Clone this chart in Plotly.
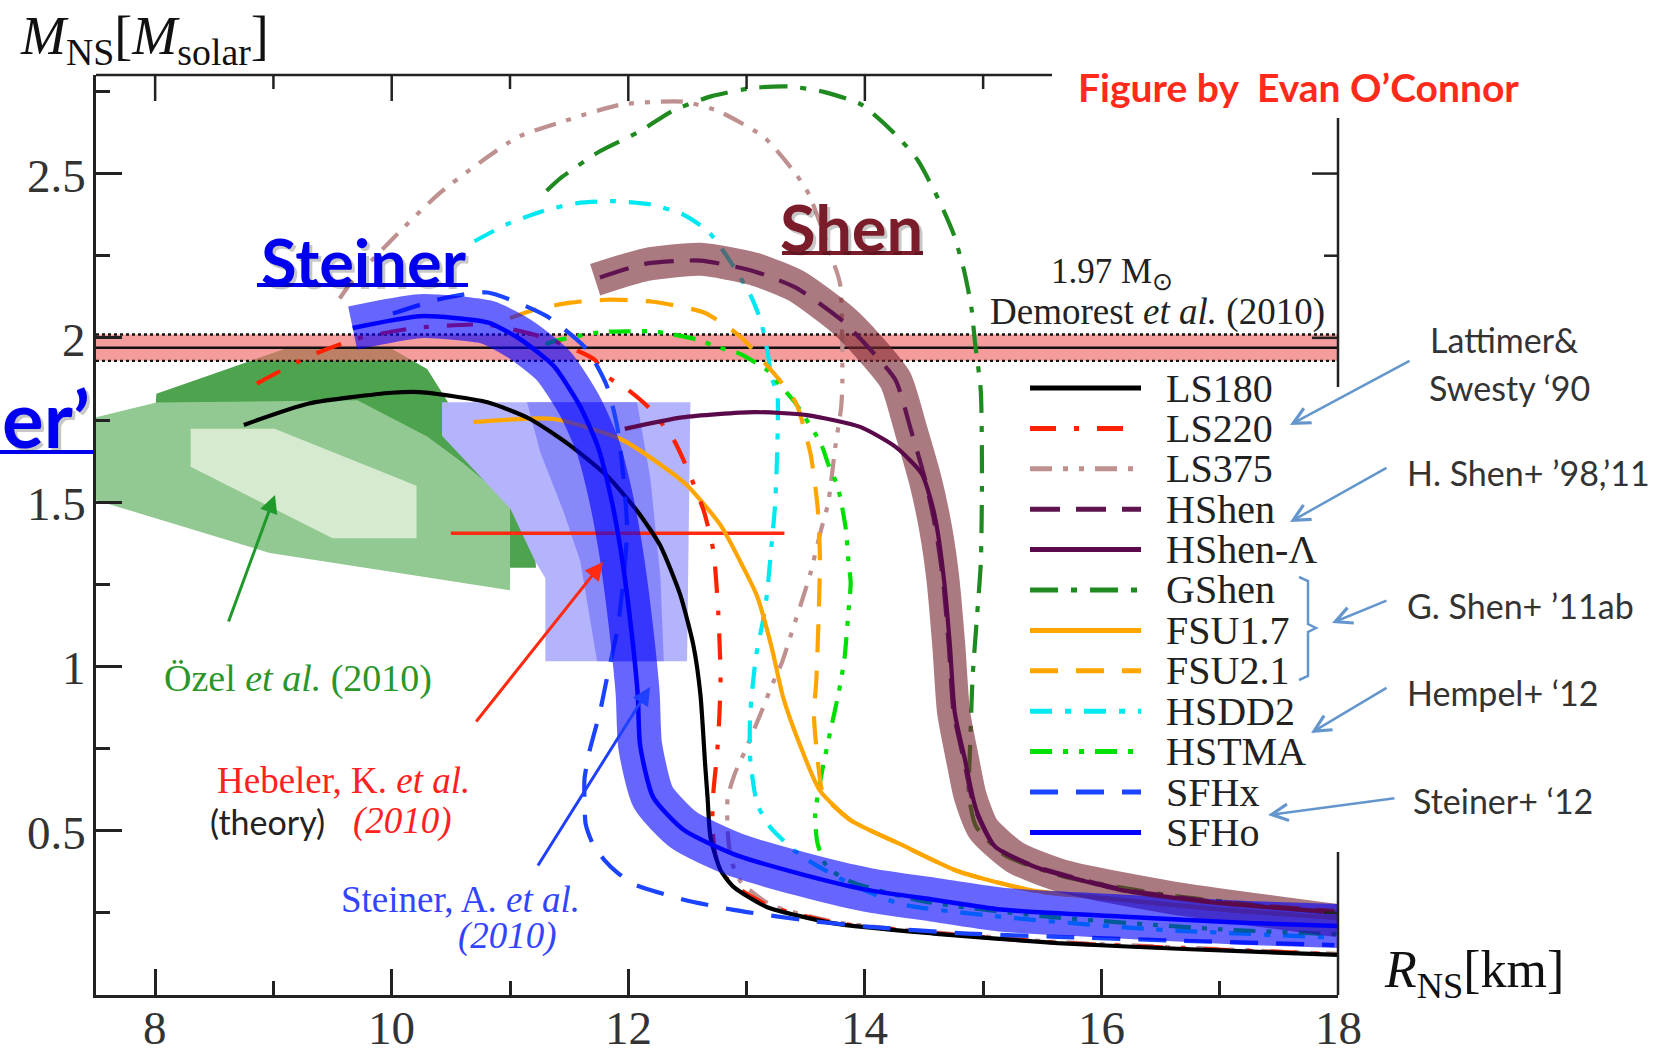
import plotly.graph_objects as go

# ---------------- data: mass-radius curves (R in km, M in Msun) ----------------
LS180_R = [8.75, 9.3, 10.0, 10.24, 10.81, 11.17, 11.51, 11.82, 12.08, 12.27, 12.44, 12.55, 12.61, 12.65, 12.67, 12.695, 12.78, 12.89, 13.17, 13.74, 14.58, 15.63, 16.70, 18.0]
LS180_M = [1.735, 1.80, 1.833, 1.835, 1.804, 1.753, 1.672, 1.58, 1.471, 1.368, 1.217, 1.065, 0.914, 0.70, 0.602, 0.480, 0.380, 0.329, 0.268, 0.218, 0.187, 0.158, 0.140, 0.122]

LS220_R = [8.86, 9.29, 9.70, 10.2, 10.8, 11.3, 11.71, 11.82, 11.99, 12.17, 12.38, 12.50, 12.64, 12.72, 12.76, 12.78, 12.77, 12.75, 12.72, 12.71, 12.74, 12.82, 12.93, 13.2, 13.75, 14.6, 15.6, 16.7, 18.0]
LS220_M = [1.861, 1.942, 1.997, 2.03, 2.04, 2.0, 1.935, 1.883, 1.844, 1.789, 1.692, 1.601, 1.471, 1.35, 1.168, 0.965, 0.85, 0.732, 0.62, 0.52, 0.42, 0.36, 0.325, 0.27, 0.22, 0.188, 0.16, 0.142, 0.124]

LS375_R = [9.56, 9.67, 10.10, 10.42, 11.06, 11.46, 11.94, 12.46, 12.76, 13.15, 13.42, 13.53, 13.71, 13.79, 13.81, 13.80, 13.75, 13.69, 13.63, 13.54, 13.48, 13.39, 13.30, 13.21, 13.14, 12.99, 12.90, 12.84, 12.84, 12.87, 12.95, 13.2, 13.75, 14.6, 15.6, 16.7, 18.0]
LS375_M = [2.12, 2.174, 2.335, 2.445, 2.61, 2.66, 2.71, 2.719, 2.69, 2.61, 2.497, 2.435, 2.255, 2.165, 1.871, 1.79, 1.668, 1.497, 1.416, 1.284, 1.213, 1.113, 1.013, 0.939, 0.875, 0.745, 0.673, 0.60, 0.50, 0.41, 0.345, 0.275, 0.222, 0.19, 0.162, 0.144, 0.125]

HSHEN_R = [11.76, 12.15, 12.61, 13.06, 13.42, 13.81, 14.03, 14.26, 14.39, 14.51, 14.60, 14.66, 14.71, 14.75, 14.84, 14.90, 14.94, 15.09, 15.42, 16.16, 16.96, 17.97]
HSHEN_M = [2.184, 2.226, 2.235, 2.203, 2.152, 2.052, 1.971, 1.871, 1.719, 1.568, 1.416, 1.265, 1.061, 0.861, 0.71, 0.606, 0.558, 0.455, 0.394, 0.323, 0.284, 0.255]

HSHENL_R = [11.97, 12.455, 13.06, 13.51, 13.96, 14.26, 14.48, 14.57, 14.62, 14.67, 14.72, 14.76, 14.85, 14.91, 14.95, 15.10, 15.43, 16.16, 16.96, 17.97]
HSHENL_M = [1.723, 1.758, 1.774, 1.765, 1.729, 1.668, 1.587, 1.49, 1.40, 1.26, 1.06, 0.86, 0.71, 0.606, 0.555, 0.452, 0.391, 0.32, 0.281, 0.252]

SHEN_BAND_R = [11.72, 12.15, 12.61, 13.06, 13.42, 13.81, 14.03, 14.26, 14.39, 14.51, 14.60, 14.66, 14.71, 14.75, 14.83, 14.89, 15.0, 15.27, 15.68, 16.58, 18.0]
SHEN_BAND_M = [2.177, 2.223, 2.239, 2.21, 2.158, 2.055, 1.974, 1.871, 1.719, 1.568, 1.416, 1.265, 1.061, 0.861, 0.71, 0.606, 0.506, 0.419, 0.361, 0.297, 0.226]

GSHEN_R = [11.31, 11.43, 11.76, 12.10, 12.37, 12.70, 13.06, 13.36, 13.66, 13.97, 14.26, 14.45, 14.63, 14.75, 14.84, 14.90, 14.93, 14.98, 14.99, 14.98, 14.95, 14.91, 14.89, 14.88, 14.94, 15.18, 15.68, 16.58, 18.0]
GSHEN_M = [2.448, 2.487, 2.568, 2.629, 2.69, 2.735, 2.761, 2.765, 2.748, 2.71, 2.619, 2.539, 2.416, 2.316, 2.203, 2.094, 1.99, 1.839, 1.568, 1.313, 1.161, 0.961, 0.758, 0.606, 0.513, 0.426, 0.361, 0.303, 0.248]

FSU17_R = [10.69, 11.37, 11.93, 12.25, 12.5, 12.78, 12.97, 13.09, 13.21, 13.31, 13.46, 13.62, 13.88, 14.30, 14.8, 15.42, 16.16, 17.03, 18.0]
FSU17_M = [1.744, 1.753, 1.693, 1.62, 1.55, 1.43, 1.303, 1.213, 1.061, 0.905, 0.753, 0.622, 0.532, 0.459, 0.375, 0.318, 0.29, 0.26, 0.235]

FSU21_R = [11.0, 11.2, 11.51, 11.82, 12.21, 12.64, 12.94, 13.28, 13.42, 13.54, 13.60, 13.62, 13.61, 13.59, 13.57, 13.60, 13.65, 13.88, 14.30, 14.8, 15.42, 16.16, 17.03, 18.0]
FSU21_M = [2.06, 2.085, 2.107, 2.116, 2.11, 2.077, 2.006, 1.871, 1.8, 1.648, 1.487, 1.335, 1.161, 0.961, 0.85, 0.72, 0.61, 0.532, 0.459, 0.375, 0.318, 0.29, 0.26, 0.235]

HSDD2_R = [10.70, 10.97, 11.29, 11.57, 11.88, 12.19, 12.455, 12.67, 12.84, 13.03, 13.12, 13.18, 13.21, 13.26, 13.26, 13.24, 13.21, 13.17, 13.14, 13.08, 13.03, 13.03, 13.09, 13.20, 13.40, 13.57, 13.88, 14.30, 15.15, 16.43, 17.97]
HSDD2_M = [2.294, 2.345, 2.387, 2.41, 2.416, 2.406, 2.377, 2.326, 2.245, 2.132, 2.052, 1.952, 1.881, 1.829, 1.668, 1.487, 1.365, 1.213, 1.142, 1.032, 0.853, 0.723, 0.581, 0.511, 0.441, 0.399, 0.338, 0.277, 0.238, 0.20, 0.175]

HSTMA_R = [11.3, 11.37, 11.76, 12.0, 12.21, 12.58, 12.76, 12.94, 13.18, 13.27, 13.41, 13.63, 13.69, 13.77, 13.84, 13.86, 13.88, 13.86, 13.83, 13.80, 13.77, 13.71, 13.64, 13.58, 13.60, 13.68, 13.88, 14.5, 15.5, 17.0, 18.0]
HSTMA_M = [1.98, 1.99, 2.017, 2.02, 2.02, 1.995, 1.971, 1.952, 1.9, 1.861, 1.803, 1.677, 1.616, 1.548, 1.416, 1.323, 1.255, 1.161, 1.032, 0.961, 0.905, 0.805, 0.684, 0.55, 0.461, 0.39, 0.345, 0.285, 0.24, 0.2, 0.185]

SFHX_R = [10.01, 10.42, 10.81, 11.31, 11.65, 11.82, 11.91, 11.96, 11.99, 11.96, 11.91, 11.82, 11.76, 11.67, 11.63, 11.63, 11.64, 11.70, 11.80, 11.90, 12.04, 12.47, 12.89, 13.46, 14.02, 14.87, 15.63, 16.69, 17.97]
SFHX_M = [2.074, 2.119, 2.138, 2.066, 1.965, 1.853, 1.723, 1.571, 1.42, 1.268, 1.117, 0.965, 0.861, 0.739, 0.658, 0.587, 0.52, 0.46, 0.41, 0.375, 0.338, 0.290, 0.259, 0.229, 0.208, 0.187, 0.177, 0.165, 0.152]

SFHO_R = [9.67, 10.24, 10.81, 11.09, 11.37, 11.59, 11.74, 11.85, 11.93, 11.99, 12.04, 12.08, 12.10, 12.21, 12.47, 12.89, 13.46, 14.02, 14.58, 15.15, 16.16, 17.23, 18.0]
SFHO_M = [2.03, 2.066, 2.047, 1.995, 1.914, 1.793, 1.672, 1.520, 1.368, 1.217, 1.065, 0.914, 0.76, 0.602, 0.502, 0.429, 0.368, 0.320, 0.290, 0.260, 0.239, 0.219, 0.21]

# ---------------- observational constraint regions ----------------
OZEL_OUTER_R = [8.0, 8.01, 9.1, 10.0, 10.3, 10.5, 10.9, 11.2, 11.22, 10.99, 9.0, 8.0]
OZEL_OUTER_M = [1.765, 1.83, 1.967, 1.967, 1.905, 1.79, 1.62, 1.40, 1.30, 1.30, 1.40, 1.70]
OZEL_MID_R = [7.5, 8.01, 9.71, 10.3, 10.6, 11.0, 11.0, 8.97, 7.5]
OZEL_MID_M = [1.758, 1.803, 1.81, 1.70, 1.62, 1.50, 1.232, 1.345, 1.506]
OZEL_INNER_R = [8.30, 9.01, 10.21, 10.21, 9.50, 8.30]
OZEL_INNER_M = [1.723, 1.723, 1.55, 1.39, 1.39, 1.608]
STEINER_OUTER_R = [10.425, 12.525, 12.497, 11.299, 11.299, 11.214, 11.003, 10.425]
STEINER_OUTER_M = [1.804, 1.804, 1.016, 1.016, 1.268, 1.319, 1.48, 1.702]
STEINER_INNER_R = [11.144, 12.074, 12.187, 12.272, 12.30, 11.736, 11.595, 11.454, 11.256]
STEINER_INNER_M = [1.804, 1.804, 1.571, 1.268, 1.016, 1.016, 1.319, 1.470, 1.652]
HEBELER_R = [10.5, 13.32]
HEBELER_M = [1.405, 1.405]
DEMOREST_M = 1.97
DEMOREST_ERR = 0.04

# ---------------- axes ----------------
X_TICKS = [8, 10, 12, 14, 16, 18]
X_TICKTEXT = ["8", "10", "12", "14", "16", "18"]
X_MINOR = [9, 11, 13, 15, 17]
Y_TICKS = [0.5, 1.0, 1.5, 2.0, 2.5]
Y_TICKTEXT = ["0.5", "1", "1.5", "2", "2.5"]
Y_MINOR = [0.25, 0.75, 1.25, 1.75, 2.25, 2.75]
X_RANGE = [7.5, 18]
Y_RANGE = [0, 2.8]

LEGEND_NAMES = ["LS180", "LS220", "LS375", "HShen", "HShen-Λ", "GShen", "FSU1.7", "FSU2.1", "HSDD2", "HSTMA", "SFHx", "SFHo"]

# ---------------- styles ----------------
SERIF = "Liberation Serif"
SANS = "Lato"
W, H = 1668, 1055
L, R, T, B = 96, 1338, 75, 995


def px(x):
    return (x - L) / (R - L)


def py(y):
    return (B - y) / (B - T)


STYLE = {
    "LS180": ("#000000", "solid"),
    "LS220": ("#ff2200", "26px,18px,5px,18px"),
    "LS375": ("#bf9090", "22px,11px,5px,11px,5px,11px"),
    "HShen": ("#5f1450", "30px,16px"),
    "HShen-Λ": ("#5a0a4a", "solid"),
    "GShen": ("#1f8a1f", "28px,13px,6px,13px"),
    "FSU1.7": ("#ffa500", "solid"),
    "FSU2.1": ("#ffa500", "28px,18px"),
    "HSDD2": ("#00e8f0", "22px,13px,6px,13px"),
    "HSTMA": ("#00e000", "22px,11px,5px,11px,5px,11px"),
    "SFHx": ("#1a44ff", "28px,18px"),
    "SFHo": ("#0000ff", "solid"),
}

fig = go.Figure()


def poly(r, m, color):
    fig.add_trace(go.Scatter(x=r + [r[0]], y=m + [m[0]], mode="lines", fill="toself",
                             fillcolor=color, line=dict(width=0), hoverinfo="skip", showlegend=False))


# regions
poly(OZEL_OUTER_R, OZEL_OUTER_M, "rgb(78,164,78)")
poly(OZEL_MID_R, OZEL_MID_M, "rgb(146,201,146)")
poly(OZEL_INNER_R, OZEL_INNER_M, "rgb(214,234,208)")
poly(STEINER_OUTER_R, STEINER_OUTER_M, "rgb(180,180,252)")
poly(STEINER_INNER_R, STEINER_INNER_M, "rgb(136,136,250)")

# Demorest band
lo, hi = DEMOREST_M - DEMOREST_ERR, DEMOREST_M + DEMOREST_ERR
fig.add_trace(go.Scatter(x=[X_RANGE[0], X_RANGE[1], X_RANGE[1], X_RANGE[0], X_RANGE[0]],
                         y=[lo, lo, hi, hi, lo], mode="lines", fill="toself",
                         fillcolor="rgba(240,110,110,0.68)", line=dict(width=0),
                         hoverinfo="skip", showlegend=False))
for yv, dash in [(lo, "dot"), (hi, "dot"), (DEMOREST_M, "solid")]:
    fig.add_trace(go.Scatter(x=X_RANGE, y=[yv, yv], mode="lines",
                             line=dict(color="#111", width=2.4, dash=dash),
                             hoverinfo="skip", showlegend=False))

# Hebeler range
fig.add_trace(go.Scatter(x=HEBELER_R, y=HEBELER_M, mode="lines",
                         line=dict(color="#ff2a10", width=3.5), hoverinfo="skip", showlegend=False))


def curve(name, r, m, width=4.2):
    c, d = STYLE[name]
    fig.add_trace(go.Scatter(x=r, y=m, mode="lines", name=name,
                             line=dict(color=c, width=width, dash=d, shape="spline", smoothing=0.6),
                             hoverinfo="skip", showlegend=False))


curve("LS375", LS375_R, LS375_M)
curve("GShen", GSHEN_R, GSHEN_M)
curve("HSDD2", HSDD2_R, HSDD2_M)
curve("HSTMA", HSTMA_R, HSTMA_M)
curve("FSU2.1", FSU21_R, FSU21_M)
curve("FSU1.7", FSU17_R, FSU17_M)
curve("LS220", LS220_R, LS220_M)
curve("LS180", LS180_R, LS180_M)
curve("SFHx", SFHX_R, SFHX_M)

# thick highlight bands
fig.add_trace(go.Scatter(x=SHEN_BAND_R, y=SHEN_BAND_M, mode="lines",
                         line=dict(color="rgba(120,38,50,0.62)", width=33, shape="spline", smoothing=0.6),
                         hoverinfo="skip", showlegend=False))
fig.add_trace(go.Scatter(x=SFHO_R, y=SFHO_M, mode="lines",
                         line=dict(color="rgba(0,0,255,0.6)", width=44, shape="spline", smoothing=0.6),
                         hoverinfo="skip", showlegend=False))

curve("HShen", HSHEN_R, HSHEN_M)
curve("HShen-Λ", HSHENL_R, HSHENL_M)
curve("SFHo", SFHO_R, SFHO_M, width=4.5)

# ---------------- shapes: frame pieces, legend samples, underlines ----------------
shapes = []
ax_col = "#222"
# top axis (partial)
shapes.append(dict(type="line", xref="paper", yref="paper", x0=0, x1=px(1052), y0=1, y1=1,
                   line=dict(color=ax_col, width=2.5)))
for xv in range(8, 16):
    ln = 26 if xv % 2 == 0 else 14
    shapes.append(dict(type="line", xref="x", yref="paper", x0=xv, x1=xv, y0=1, y1=1 - ln / (B - T),
                       line=dict(color=ax_col, width=2.5)))
# right axis (two visible pieces)
for a, b in [(118, 387), (852, 995)]:
    shapes.append(dict(type="line", xref="paper", yref="paper", x0=1, x1=1, y0=py(a), y1=py(b),
                       line=dict(color=ax_col, width=2.5)))
for yv, ln in [(2.5, 26), (2.25, 14), (2.0, 26), (0.25, 14)]:
    shapes.append(dict(type="line", xref="paper", yref="y", x0=1, x1=1 - ln / (R - L), y0=yv, y1=yv,
                       line=dict(color=ax_col, width=2.5)))

# legend samples
ROW0, DROW = 388, 40.4
for i, name in enumerate(LEGEND_NAMES):
    c, d = STYLE[name]
    yy = ROW0 + i * DROW
    shapes.append(dict(type="line", xref="paper", yref="paper", x0=px(1030), x1=px(1141),
                       y0=py(yy), y1=py(yy), line=dict(color=c, width=5, dash=d)))

# underlines
for x0, x1, yy, col in [(257, 468, 285, "#0000ee"), (782, 923, 253, "#7b1c2b"), (0, 94, 452, "#0000ee")]:
    shapes.append(dict(type="line", xref="paper", yref="paper", x0=px(x0), x1=px(x1), y0=py(yy), y1=py(yy),
                       line=dict(color=col, width=4)))

# curly bracket for G. Shen group
bx = [1299, 1308, 1308, 1316, 1308, 1308, 1299]
by = [577, 581, 624, 628, 632, 676, 680]
path = "M " + " L ".join(f"{px(a):.5f},{py(b):.5f}" for a, b in zip(bx, by))
shapes.append(dict(type="path", xref="paper", yref="paper", path=path,
                   line=dict(color="rgb(100,150,205)", width=2.5)))

# ---------------- annotations ----------------
ann = []


def txt(x, y, s, size, color, family, xanchor="center"):
    ann.append(dict(x=px(x), y=py(y), xref="paper", yref="paper", text=s, showarrow=False,
                    font=dict(size=size, color=color, family=family), xanchor=xanchor, yanchor="middle"))


def arrow(tail, head, color, width, head_style, size=1.0):
    ann.append(dict(x=px(head[0]), y=py(head[1]), xref="paper", yref="paper", text="",
                    ax=tail[0] - head[0], ay=tail[1] - head[1], axref="pixel", ayref="pixel",
                    showarrow=True, arrowhead=head_style, arrowsize=size, arrowwidth=width,
                    arrowcolor=color, standoff=0, startstandoff=0))


# tick labels (placed from the tick lists)
for v, s in zip(X_TICKS, X_TICKTEXT):
    ann.append(dict(x=v, y=py(1028), xref="x", yref="paper", text=s, showarrow=False,
                    font=dict(size=47, color="#333", family=SERIF), xanchor="center", yanchor="middle"))
for v, s in zip(Y_TICKS, Y_TICKTEXT):
    ann.append(dict(x=px(88), y=v, xref="paper", yref="y", text=s, showarrow=False,
                    font=dict(size=47, color="#333", family=SERIF), xanchor="right", yanchor="middle",
                    yshift=-2))

# axis titles
txt(144, 40, "<i>M</i><sub>NS</sub>[<i>M</i><sub>solar</sub>]", 54, "#111", SERIF)
txt(1474, 973, "<i>R</i><sub>NS</sub>[km]", 52, "#111", SERIF)

# big highlight labels with soft shadow
for (x, y, s, col, sz) in [(364, 261, "<b>Steiner</b>", "#0000ee", 65), (851, 227, "<b>Shen</b>", "#7b1c2b", 65),
                           (46, 418, "<b>er’</b>", "#0000ee", 78)]:
    txt(x + 3, y + 3, s, sz, "rgba(0,0,0,0.22)", SANS)
    txt(x, y, s, sz, col, SANS)

txt(1298, 87, "<b>Figure by\u00a0 Evan O’Connor</b>", 39, "#ff2a1a", SANS)

txt(1112, 273, "1.97 M<sub>⊙</sub>", 35, "#222", SERIF)
txt(1157, 312, "Demorest <i>et al.</i> (2010)", 37, "#222", SERIF)
txt(298, 678, "Özel <i>et al.</i> (2010)", 38, "#2a962a", SERIF)
txt(343, 780, "Hebeler, K. <i>et al.</i>", 37, "#ff2020", SERIF)
txt(267, 821, "(theory)", 34, "#222", SANS)
txt(402, 821, "<i>(2010)</i>", 37, "#ff2020", SERIF)
txt(460, 899, "Steiner, A. <i>et al.</i>", 37, "#3344ff", SERIF)
txt(508, 936, "<i>(2010)</i>", 37, "#3344ff", SERIF)

# legend labels
for i, name in enumerate(LEGEND_NAMES):
    txt(1164, ROW0 + i * DROW, name, 40, "#222", SERIF, xanchor="left")

# model-family notes
note_col = "#333"
txt(1428, 340, "Lattimer&", 34, note_col, SANS, xanchor="left")
txt(1427, 387, "Swesty ‘90", 34, note_col, SANS, xanchor="left")
txt(1405, 473, "H. Shen+ ’98,’11", 34, note_col, SANS, xanchor="left")
txt(1405, 605, "G. Shen+ ’11ab", 34, note_col, SANS, xanchor="left")
txt(1405, 692, "Hempel+ ‘12", 34, note_col, SANS, xanchor="left")
txt(1411, 800, "Steiner+ ‘12", 34, note_col, SANS, xanchor="left")

blue_arrow = "rgb(100,150,205)"
arrow((1411, 360), (1290, 425), blue_arrow, 2.5, 5, 1.3)
arrow((1388, 467), (1290, 522), blue_arrow, 2.5, 5, 1.3)
arrow((1388, 600), (1332, 623), blue_arrow, 2.5, 5, 1.3)
arrow((1388, 687), (1311, 733), blue_arrow, 2.5, 5, 1.3)
arrow((1396, 798), (1268, 815), blue_arrow, 2.5, 5, 1.3)

# pointer arrows to constraint regions
arrow((228, 623), (275, 495), "#1f9a2a", 3, 2, 1.2)
arrow((475, 723), (603, 562), "#ff2a10", 3, 2, 1.2)
arrow((537, 867), (650, 687), "#2040ff", 3, 2, 1.2)

axis_common = dict(showgrid=False, zeroline=False, showline=True, linecolor=ax_col, linewidth=2.5,
                   ticks="inside", tickwidth=2.5, tickcolor=ax_col, showticklabels=False,
                   automargin=False)

fig.update_layout(
    width=W, height=H,
    margin=dict(l=L, r=W - R, t=T, b=H - B, autoexpand=False),
    paper_bgcolor="white", plot_bgcolor="white",
    showlegend=False,
    xaxis=dict(range=X_RANGE, tickmode="array", tickvals=X_TICKS, ticklen=26,
               minor=dict(tickmode="array", tickvals=X_MINOR, ticks="inside", ticklen=14,
                          tickwidth=2.5, tickcolor=ax_col), **axis_common),
    yaxis=dict(range=Y_RANGE, tickmode="array", tickvals=Y_TICKS, ticklen=26,
               minor=dict(tickmode="array", tickvals=Y_MINOR, ticks="inside", ticklen=14,
                          tickwidth=2.5, tickcolor=ax_col), **axis_common),
    shapes=shapes,
    annotations=ann,
)

fig.write_html("out.html")
